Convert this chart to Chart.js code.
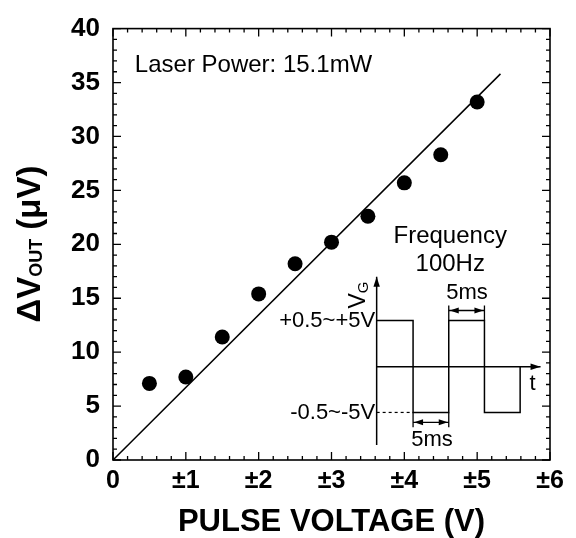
<!DOCTYPE html>
<html><head><meta charset="utf-8">
<script src="https://cdn.jsdelivr.net/npm/chart.js@4.4.0/dist/chart.umd.min.js"></script>
<style>html,body{margin:0;padding:0;background:#fff;}</style>
</head><body>
<canvas id="c" width="576" height="538"></canvas>
<script>
// ---- data ----
const pulseVoltage = [0.5, 1, 1.5, 2, 2.5, 3, 3.5, 4, 4.5, 5];
const deltaVout   = [7.1, 7.7, 11.4, 15.4, 18.2, 20.2, 22.6, 25.7, 28.3, 33.2];
const fitX = [0, 5.32];
const fitY = [0, 35.8];
const xTickValues = [0, 1, 2, 3, 4, 5, 6];
const xTickLabels = ['0', '±1', '±2', '±3', '±4', '±5', '±6'];
const yTickValues = [0, 5, 10, 15, 20, 25, 30, 35, 40];
const yTickLabels = ['0', '5', '10', '15', '20', '25', '30', '35', '40'];

// ---- inset schematic (in chart data units) ----
const waveT = [3.62, 4.12, 4.12, 4.61, 4.61, 5.10, 5.10, 5.59, 5.59];
const waveV = [12.94, 12.94, 4.41, 4.41, 12.94, 12.94, 4.41, 4.41, 8.64];
const vAxisT = [3.62, 3.62];
const vAxisV = [1.38, 17.0];
const tAxisT = [3.62, 5.87];
const tAxisV = [8.64, 8.64];
const dashT = [3.62, 4.12];
const dashV = [4.41, 4.41];
const upperArrowT = [4.61, 5.10];
const upperArrowV = 13.86;
const lowerArrowT = [4.12, 4.61];
const lowerArrowV = 3.49;
const highLevel = 12.94;
const lowLevel = 4.41;

const pts = (xs, ys) => xs.map((x, i) => ({x, y: Array.isArray(ys) ? ys[i] : ys}));

const FONT = '"Liberation Sans", Arial, Helvetica, sans-serif';

const lineDs = (data, extra) => Object.assign({
  type: 'line', data, borderColor: '#000', borderWidth: 1.5, pointRadius: 0,
  fill: false, tension: 0, showLine: true
}, extra || {});

const texts = [
  {t: 'Laser Power: 15.1mW', x: 0.30, y: 36.6, size: 24, align: 'left'},
  {t: 'Frequency', x: 4.63, y: 20.7, size: 24, align: 'center'},
  {t: '100Hz', x: 4.63, y: 18.1, size: 24, align: 'center'},
  {t: '+0.5~+5V', x: 3.60, y: 12.94, size: 22, align: 'right'},
  {t: '-0.5~-5V', x: 3.60, y: 4.41, size: 22, align: 'right'},
  {t: '5ms', x: 4.86, y: 15.48, size: 22, align: 'center'},
  {t: '5ms', x: 4.38, y: 1.84, size: 22, align: 'center'},
  {t: 't', x: 5.76, y: 7.05, size: 22, align: 'center'}
];

function arrowHead(ctx, x, y, dx, dy, len, hw) {
  const px = -dy, py = dx;
  ctx.beginPath();
  ctx.moveTo(x, y);
  ctx.lineTo(x - dx*len + px*hw, y - dy*len + py*hw);
  ctx.lineTo(x - dx*len - px*hw, y - dy*len - py*hw);
  ctx.closePath();
  ctx.fill();
}

const framePlugin = {
  id: 'frameInset',
  afterDraw(chart) {
    const ctx = chart.ctx, xs = chart.scales.x, ys = chart.scales.y;
    const X = v => xs.getPixelForValue(v), Y = v => ys.getPixelForValue(v);
    const {left, right, top, bottom} = chart.chartArea;
    ctx.save();
    ctx.strokeStyle = '#000'; ctx.fillStyle = '#000';
    // frame
    ctx.lineWidth = 1.6;
    ctx.strokeRect(left, top, right - left, bottom - top);
    // ticks (inward, all four sides)
    ctx.lineWidth = 1.3;
    ctx.beginPath();
    for (let i = 0; i <= 30; i++) {
      const px = X(i * 0.2), len = (i % 5 === 0) ? 8 : 4;
      ctx.moveTo(px, bottom); ctx.lineTo(px, bottom - len);
      ctx.moveTo(px, top); ctx.lineTo(px, top + len);
    }
    for (let i = 0; i <= 40; i++) {
      const py = Y(i), len = (i % 5 === 0) ? 8 : 4;
      ctx.moveTo(left, py); ctx.lineTo(left + len, py);
      ctx.moveTo(right, py); ctx.lineTo(right - len, py);
    }
    ctx.stroke();

    // inset arrows
    arrowHead(ctx, X(vAxisT[1]), Y(vAxisV[1]), 0, -1, 10, 3.2);
    arrowHead(ctx, X(tAxisT[1]), Y(tAxisV[1]), 1, 0, 10, 3.2);
    const dbl = (t0, t1, v, level, up) => {
      const x0 = X(t0), x1 = X(t1), yy = Y(v), yl = Y(level);
      const ext = up ? yy - 5 : yy + 5;
      ctx.lineWidth = 1.3;
      ctx.beginPath();
      ctx.moveTo(x0, yl); ctx.lineTo(x0, ext);
      ctx.moveTo(x1, yl); ctx.lineTo(x1, ext);
      ctx.stroke();
      arrowHead(ctx, x0 + 1, yy, -1, 0, 9, 3);
      arrowHead(ctx, x1 - 1, yy, 1, 0, 9, 3);
    };
    dbl(upperArrowT[0], upperArrowT[1], upperArrowV, highLevel, true);
    dbl(lowerArrowT[0], lowerArrowT[1], lowerArrowV, lowLevel, false);

    // texts
    ctx.textBaseline = 'middle';
    texts.forEach(o => {
      ctx.font = o.size + 'px ' + FONT;
      ctx.textAlign = o.align;
      ctx.fillText(o.t, X(o.x), Y(o.y));
    });

    // V_G rotated
    ctx.save();
    ctx.translate(X(3.35), Y(15.3));
    ctx.rotate(-Math.PI / 2);
    ctx.textAlign = 'left';
    ctx.textBaseline = 'alphabetic';
    ctx.font = '23px ' + FONT;
    const wV = ctx.measureText('V').width;
    ctx.font = '15px ' + FONT;
    const wG = ctx.measureText('G').width;
    const startX = -(wV + wG) / 2;
    ctx.font = '23px ' + FONT;
    ctx.fillText('V', startX, 8);
    ctx.font = '15px ' + FONT;
    ctx.fillText('G', startX + wV, 11);
    ctx.restore();

    // Y axis title with subscript
    ctx.save();
    ctx.translate(28, 244);
    ctx.rotate(-Math.PI / 2);
    ctx.textAlign = 'left';
    ctx.textBaseline = 'alphabetic';
    const big = 'bold 33px ' + FONT, small = 'bold 18px ' + FONT;
    ctx.font = big; const w1 = ctx.measureText('ΔV').width;
    ctx.font = small; const w2 = ctx.measureText('OUT').width;
    ctx.font = big; const w3 = ctx.measureText(' (μV)').width;
    let sx = -(w1 + w2 + w3) / 2;
    const base = 12;
    ctx.font = big; ctx.fillText('ΔV', sx, base); sx += w1;
    ctx.font = small; ctx.fillText('OUT', sx, base + 2); sx += w2;
    ctx.font = big; ctx.fillText(' (μV)', sx, base);
    ctx.restore();

    ctx.restore();
  }
};

new Chart(document.getElementById('c'), {
  type: 'scatter',
  data: {
    datasets: [
      lineDs(pts(fitX, fitY)),
      {
        type: 'scatter', data: pts(pulseVoltage, deltaVout),
        backgroundColor: '#000', borderColor: '#000', pointRadius: 7.5, pointBorderWidth: 0
      },
      lineDs(pts(waveT, waveV)),
      lineDs(pts(vAxisT, vAxisV)),
      lineDs(pts(tAxisT, tAxisV)),
      lineDs(pts(dashT, dashV), {borderDash: [3, 3], borderWidth: 1.2}),
      lineDs(pts(upperArrowT, upperArrowV), {borderWidth: 1.3}),
      lineDs(pts(lowerArrowT, lowerArrowV), {borderWidth: 1.3})
    ]
  },
  options: {
    responsive: false,
    animation: false,
    devicePixelRatio: 1,
    layout: {padding: {left: 0, right: 26, top: 25, bottom: 0}},
    plugins: {legend: {display: false}, tooltip: {enabled: false}},
    scales: {
      x: {
        type: 'linear', min: 0, max: 6,
        afterBuildTicks: s => { s.ticks = xTickValues.map(v => ({value: v})); },
        afterFit: s => { s.height = 78; },
        grid: {display: false, drawTicks: false},
        border: {display: false},
        ticks: {
          color: '#000', padding: 6, maxRotation: 0, autoSkip: false,
          font: {family: FONT, size: 25, weight: 'bold'},
          callback: v => xTickLabels[xTickValues.indexOf(v)]
        },
        title: {
          display: true, text: 'PULSE VOLTAGE (V)', color: '#000',
          font: {family: FONT, size: 31, weight: 'bold', lineHeight: 1},
          padding: {top: 0, bottom: 0}
        }
      },
      y: {
        type: 'linear', min: 0, max: 40,
        afterBuildTicks: s => { s.ticks = yTickValues.map(v => ({value: v})); },
        afterFit: s => { s.width = 113; },
        grid: {display: false, drawTicks: false},
        border: {display: false},
        ticks: {
          color: '#000', padding: 13, autoSkip: false,
          font: {family: FONT, size: 26, weight: 'bold'},
          callback: v => yTickLabels[yTickValues.indexOf(v)]
        }
      }
    }
  },
  plugins: [framePlugin]
});
</script>
</body></html>
